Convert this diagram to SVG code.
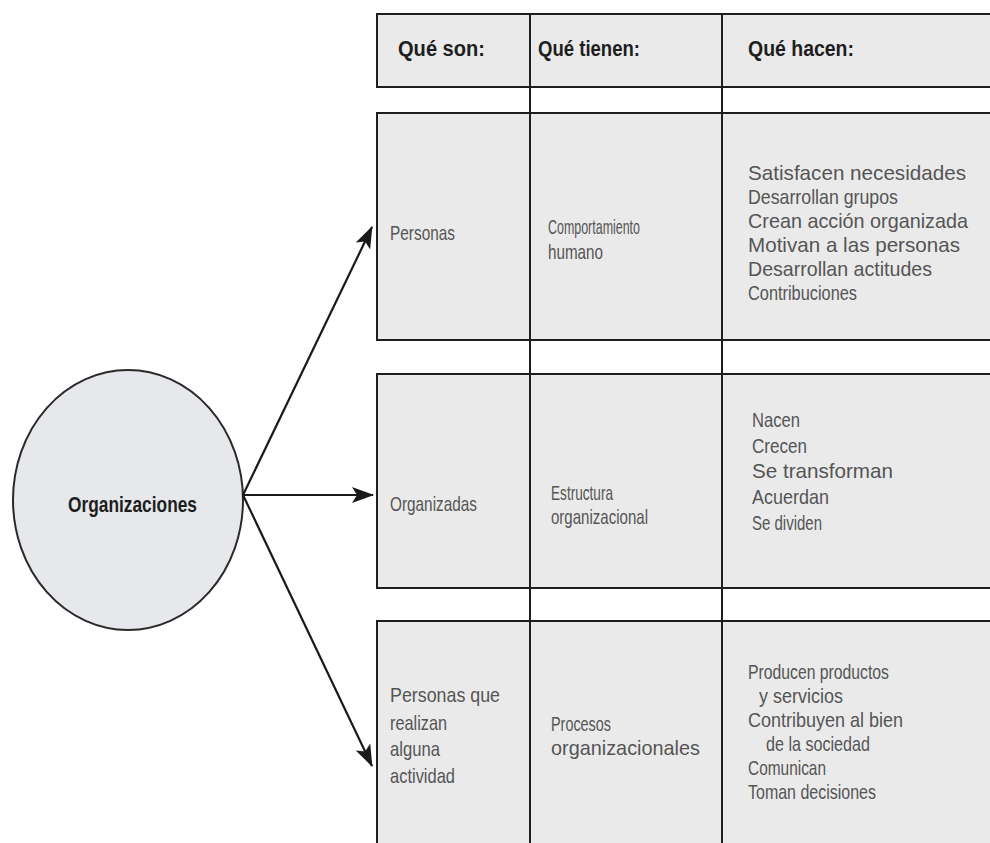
<svg xmlns="http://www.w3.org/2000/svg" width="990" height="843" viewBox="0 0 990 843">
  <style>
    .cell { fill: #eaeaea; stroke: #1e1e1e; stroke-width: 2; }
    .rule { stroke: #1e1e1e; stroke-width: 2; fill: none; }
    .head { font-family: "Liberation Sans", Arial, sans-serif; font-weight: bold; font-size: 22px; fill: #1e1e1e; }
    .body { font-family: "Liberation Sans", Arial, sans-serif; font-size: 21px; fill: #555555; }
    .link { stroke: #1a1a1a; stroke-width: 2.2; fill: none; marker-end: url(#arrow); }
  </style>
  <defs>
    <marker id="arrow" viewBox="0 0 22 16" refX="21" refY="8" markerWidth="22" markerHeight="16" markerUnits="userSpaceOnUse" orient="auto">
      <path d="M0,0 L22,8 L0,16 L5,8 Z" fill="#1a1a1a"/>
    </marker>
  </defs>

  <rect width="990" height="843" fill="#ffffff"/>

  <!-- table cells -->
  <g id="header">
    <rect class="cell" x="377" y="14" width="640" height="73"/>
    <text class="head" x="398" y="56" textLength="87" lengthAdjust="spacingAndGlyphs">Qué son:</text>
    <text class="head" x="538" y="56" textLength="102" lengthAdjust="spacingAndGlyphs">Qué tienen:</text>
    <text class="head" x="748" y="56" textLength="106" lengthAdjust="spacingAndGlyphs">Qué hacen:</text>
  </g>

  <g id="row-personas">
    <rect class="cell" x="377" y="113" width="640" height="227"/>
    <text class="body" x="390" y="240" textLength="65" lengthAdjust="spacingAndGlyphs">Personas</text>
    <text class="body" x="548" y="234" textLength="92" lengthAdjust="spacingAndGlyphs">Comportamiento</text>
    <text class="body" x="548" y="259" textLength="55" lengthAdjust="spacingAndGlyphs">humano</text>
    <text class="body" x="748" y="180" textLength="218" lengthAdjust="spacingAndGlyphs">Satisfacen necesidades</text>
    <text class="body" x="748" y="204" textLength="150" lengthAdjust="spacingAndGlyphs">Desarrollan grupos</text>
    <text class="body" x="748" y="228" textLength="220" lengthAdjust="spacingAndGlyphs">Crean acción organizada</text>
    <text class="body" x="748" y="252" textLength="212" lengthAdjust="spacingAndGlyphs">Motivan a las personas</text>
    <text class="body" x="748" y="276" textLength="184" lengthAdjust="spacingAndGlyphs">Desarrollan actitudes</text>
    <text class="body" x="748" y="300" textLength="109" lengthAdjust="spacingAndGlyphs">Contribuciones</text>
  </g>

  <g id="row-organizadas">
    <rect class="cell" x="377" y="374" width="640" height="214"/>
    <text class="body" x="390" y="511" textLength="87" lengthAdjust="spacingAndGlyphs">Organizadas</text>
    <text class="body" x="551" y="500" textLength="62" lengthAdjust="spacingAndGlyphs">Estructura</text>
    <text class="body" x="551" y="524" textLength="97" lengthAdjust="spacingAndGlyphs">organizacional</text>
    <text class="body" x="752" y="427" textLength="48" lengthAdjust="spacingAndGlyphs">Nacen</text>
    <text class="body" x="752" y="453" textLength="55" lengthAdjust="spacingAndGlyphs">Crecen</text>
    <text class="body" x="752" y="478" textLength="141" lengthAdjust="spacingAndGlyphs">Se transforman</text>
    <text class="body" x="752" y="504" textLength="77" lengthAdjust="spacingAndGlyphs">Acuerdan</text>
    <text class="body" x="752" y="530" textLength="70" lengthAdjust="spacingAndGlyphs">Se dividen</text>
  </g>

  <g id="row-actividad">
    <rect class="cell" x="377" y="621" width="640" height="240"/>
    <text class="body" x="390" y="702" textLength="110" lengthAdjust="spacingAndGlyphs">Personas que</text>
    <text class="body" x="390" y="730" textLength="57" lengthAdjust="spacingAndGlyphs">realizan</text>
    <text class="body" x="390" y="756" textLength="50" lengthAdjust="spacingAndGlyphs">alguna</text>
    <text class="body" x="390" y="783" textLength="65" lengthAdjust="spacingAndGlyphs">actividad</text>
    <text class="body" x="551" y="731" textLength="60" lengthAdjust="spacingAndGlyphs">Procesos</text>
    <text class="body" x="551" y="755" textLength="149" lengthAdjust="spacingAndGlyphs">organizacionales</text>
    <text class="body" x="748" y="679" textLength="141" lengthAdjust="spacingAndGlyphs">Producen productos</text>
    <text class="body" x="759" y="703" textLength="84" lengthAdjust="spacingAndGlyphs">y servicios</text>
    <text class="body" x="748" y="727" textLength="155" lengthAdjust="spacingAndGlyphs">Contribuyen al bien</text>
    <text class="body" x="766" y="751" textLength="104" lengthAdjust="spacingAndGlyphs">de la sociedad</text>
    <text class="body" x="748" y="775" textLength="78" lengthAdjust="spacingAndGlyphs">Comunican</text>
    <text class="body" x="748" y="799" textLength="128" lengthAdjust="spacingAndGlyphs">Toman decisiones</text>
  </g>

  <!-- column rules run the full height of the table -->
  <g id="column-rules">
    <line class="rule" x1="530" y1="14" x2="530" y2="843"/>
    <line class="rule" x1="722" y1="14" x2="722" y2="843"/>
  </g>

  <g id="organizaciones">
    <ellipse cx="128" cy="500" rx="115" ry="130" fill="#e7e8eb" stroke="#2a2a2a" stroke-width="2"/>
    <text class="head" x="68" y="512" textLength="129" lengthAdjust="spacingAndGlyphs">Organizaciones</text>
  </g>

  <g id="connectors">
    <line class="link" x1="243" y1="495" x2="372" y2="227"/>
    <line class="link" x1="243" y1="495" x2="373" y2="495"/>
    <line class="link" x1="243" y1="495" x2="372" y2="766"/>
  </g>
</svg>
